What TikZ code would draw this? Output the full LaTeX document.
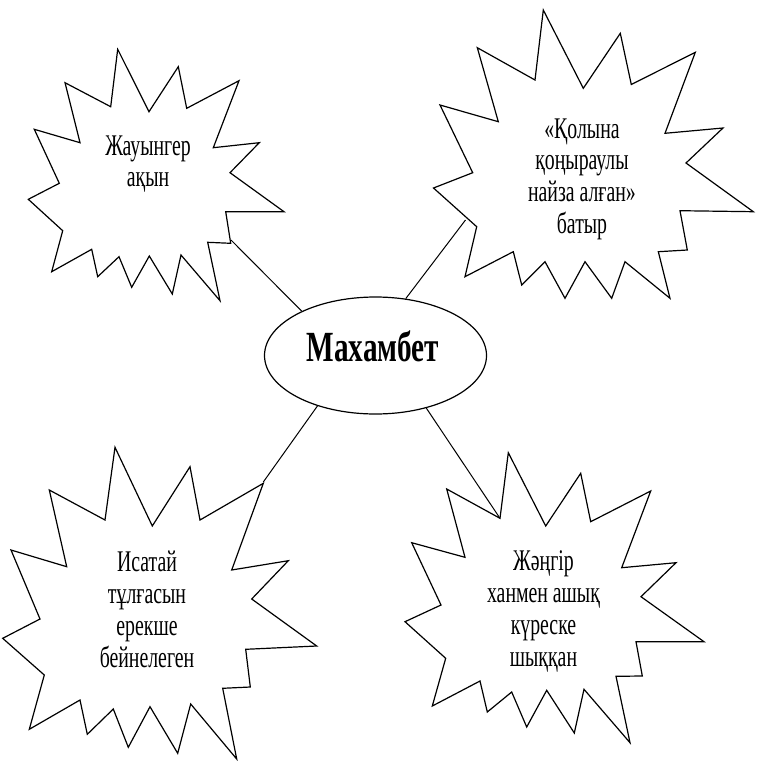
\documentclass[tikz,border=0pt]{standalone}
\usepackage{fontspec}
\usetikzlibrary{shapes.geometric}
\newfontfamily\starfont{Liberation Serif}[FakeStretch=0.66]
\newfontfamily\hubfont{Liberation Serif}[FakeStretch=0.68]
\begin{document}
\begin{tikzpicture}[x=1pt,y=-1pt,
  starline/.style={draw=black,line width=1.2pt,line join=miter,miter limit=20},
  link/.style={draw=black,line width=1pt},
  lbl/.style={anchor=base,inner sep=0pt,font=\starfont\fontsize{30}{32}\selectfont},
  titletext/.style={anchor=base,inner sep=0pt,font=\hubfont\bfseries\fontsize{43}{48}\selectfont},
  hub/.style={draw=black,line width=1.2pt,ellipse,minimum width=222pt,minimum height=117pt,inner sep=0pt}]
\useasboundingbox (0,0) rectangle (756,761);

% top-left star
\draw[starline] (117.7,49.3) -- (149,111.7) -- (178.3,66.7) -- (186.7,108.3) -- (239,80.7) -- (213.3,147.7) -- (259.3,142.7) -- (230,172.7) -- (284,211.7) -- (225.7,211.7) -- (230.7,243.3) -- (207.7,242.3) -- (220,300.7) -- (181,255) -- (172.3,294) -- (149.3,256) -- (131.7,287.3) -- (119,256.7) -- (97.7,276.7) -- (91.7,249.3) -- (51.7,271.7) -- (62.7,230.7) -- (28.3,199.3) -- (59.3,183.3) -- (34.3,129.3) -- (80,142.7) -- (65,82.7) -- (110.7,106.7) -- cycle;

% top-right star
\draw[starline] (543.3,10) -- (583.3,88.3) -- (620.3,33.3) -- (631.3,84.5) -- (695.3,52.3) -- (665,133.3) -- (723,128) -- (686,163) -- (753.3,211.7) -- (680,210.7) -- (687.3,250) -- (658.3,251.7) -- (670,298.3) -- (625,261.7) -- (611.7,298.3) -- (585,261.7) -- (565,298.3) -- (545,261.7) -- (521.7,285) -- (513.3,251.7) -- (465,276.7) -- (476.7,226.7) -- (433.5,188) -- (472.7,172.7) -- (440,105) -- (498.3,121.7) -- (477.3,47.7) -- (535,80) -- cycle;

% bottom-left star
\draw[starline] (115,447.3) -- (152.3,526) -- (190,466.7) -- (200,520) -- (263.3,483.3) -- (231.7,570) -- (288.3,560.7) -- (251.7,599) -- (316.7,646) -- (245.7,649.3) -- (250.3,687) -- (222.7,688.3) -- (236.7,759) -- (190.7,704) -- (177.7,753.3) -- (150,706.7) -- (128.3,747.3) -- (113.3,709) -- (87.3,734.3) -- (80,700) -- (29.3,729.3) -- (44.3,675) -- (2.7,638.3) -- (40,619) -- (11,550) -- (66.7,566.7) -- (49.3,490) -- (105,520) -- cycle;

% bottom-right star
\draw[starline] (508.3,452.7) -- (545.7,526) -- (580.7,473.3) -- (590.7,521.7) -- (650.7,491) -- (621.7,567.7) -- (676,562.7) -- (641,596.7) -- (704,641.7) -- (636,641.7) -- (642.3,676) -- (616,676.3) -- (630,742.7) -- (584,689.3) -- (574.3,733) -- (546.7,690.3) -- (526.7,727) -- (511.7,692) -- (487.3,712) -- (480,681) -- (432.3,706) -- (445.7,658.3) -- (405,621.7) -- (441,605) -- (411.7,542.7) -- (465,557.3) -- (446.7,489) -- (500,518.3) -- cycle;

% hub
\node[hub] (m) at (375.5,355.5) {};
\node[titletext] (mt) at (373,361.7) {Махамбет};

% connector end points on the stars
\coordinate (ea) at (231,240);
\coordinate (eb) at (465.5,220);
\coordinate (ec) at (263.3,482);
\coordinate (ed) at (500,518.3);

\draw[link] (ea) -- (m.149);
\draw[link] (eb) -- (m.62);
\draw[link] (ec) -- (m.221);
\draw[link] (ed) -- (m.314);

% labels
\node[lbl] (a1) at (148,155) {Жауынгер};
\node[lbl] (a2) at (148,186.7) {ақын};

\node[lbl] (b1) at (582,138) {«Қолына};
\node[lbl] (b2) at (582,169.5) {қоңыраулы};
\node[lbl] (b3) at (582,201) {найза алған»};
\node[lbl] (b4) at (582,233) {батыр};

\node[lbl] (c1) at (147,571) {Исатай};
\node[lbl] (c2) at (147,603) {тұлғасын};
\node[lbl] (c3) at (147,635) {ерекше};
\node[lbl] (c4) at (147,667.5) {бейнелеген};

\node[lbl] (d1) at (543.5,570) {Жәңгір};
\node[lbl] (d2) at (543.5,602) {ханмен ашық};
\node[lbl] (d3) at (543.5,634) {күреске};
\node[lbl] (d4) at (543.5,666) {шыққан};
\end{tikzpicture}
\end{document}
